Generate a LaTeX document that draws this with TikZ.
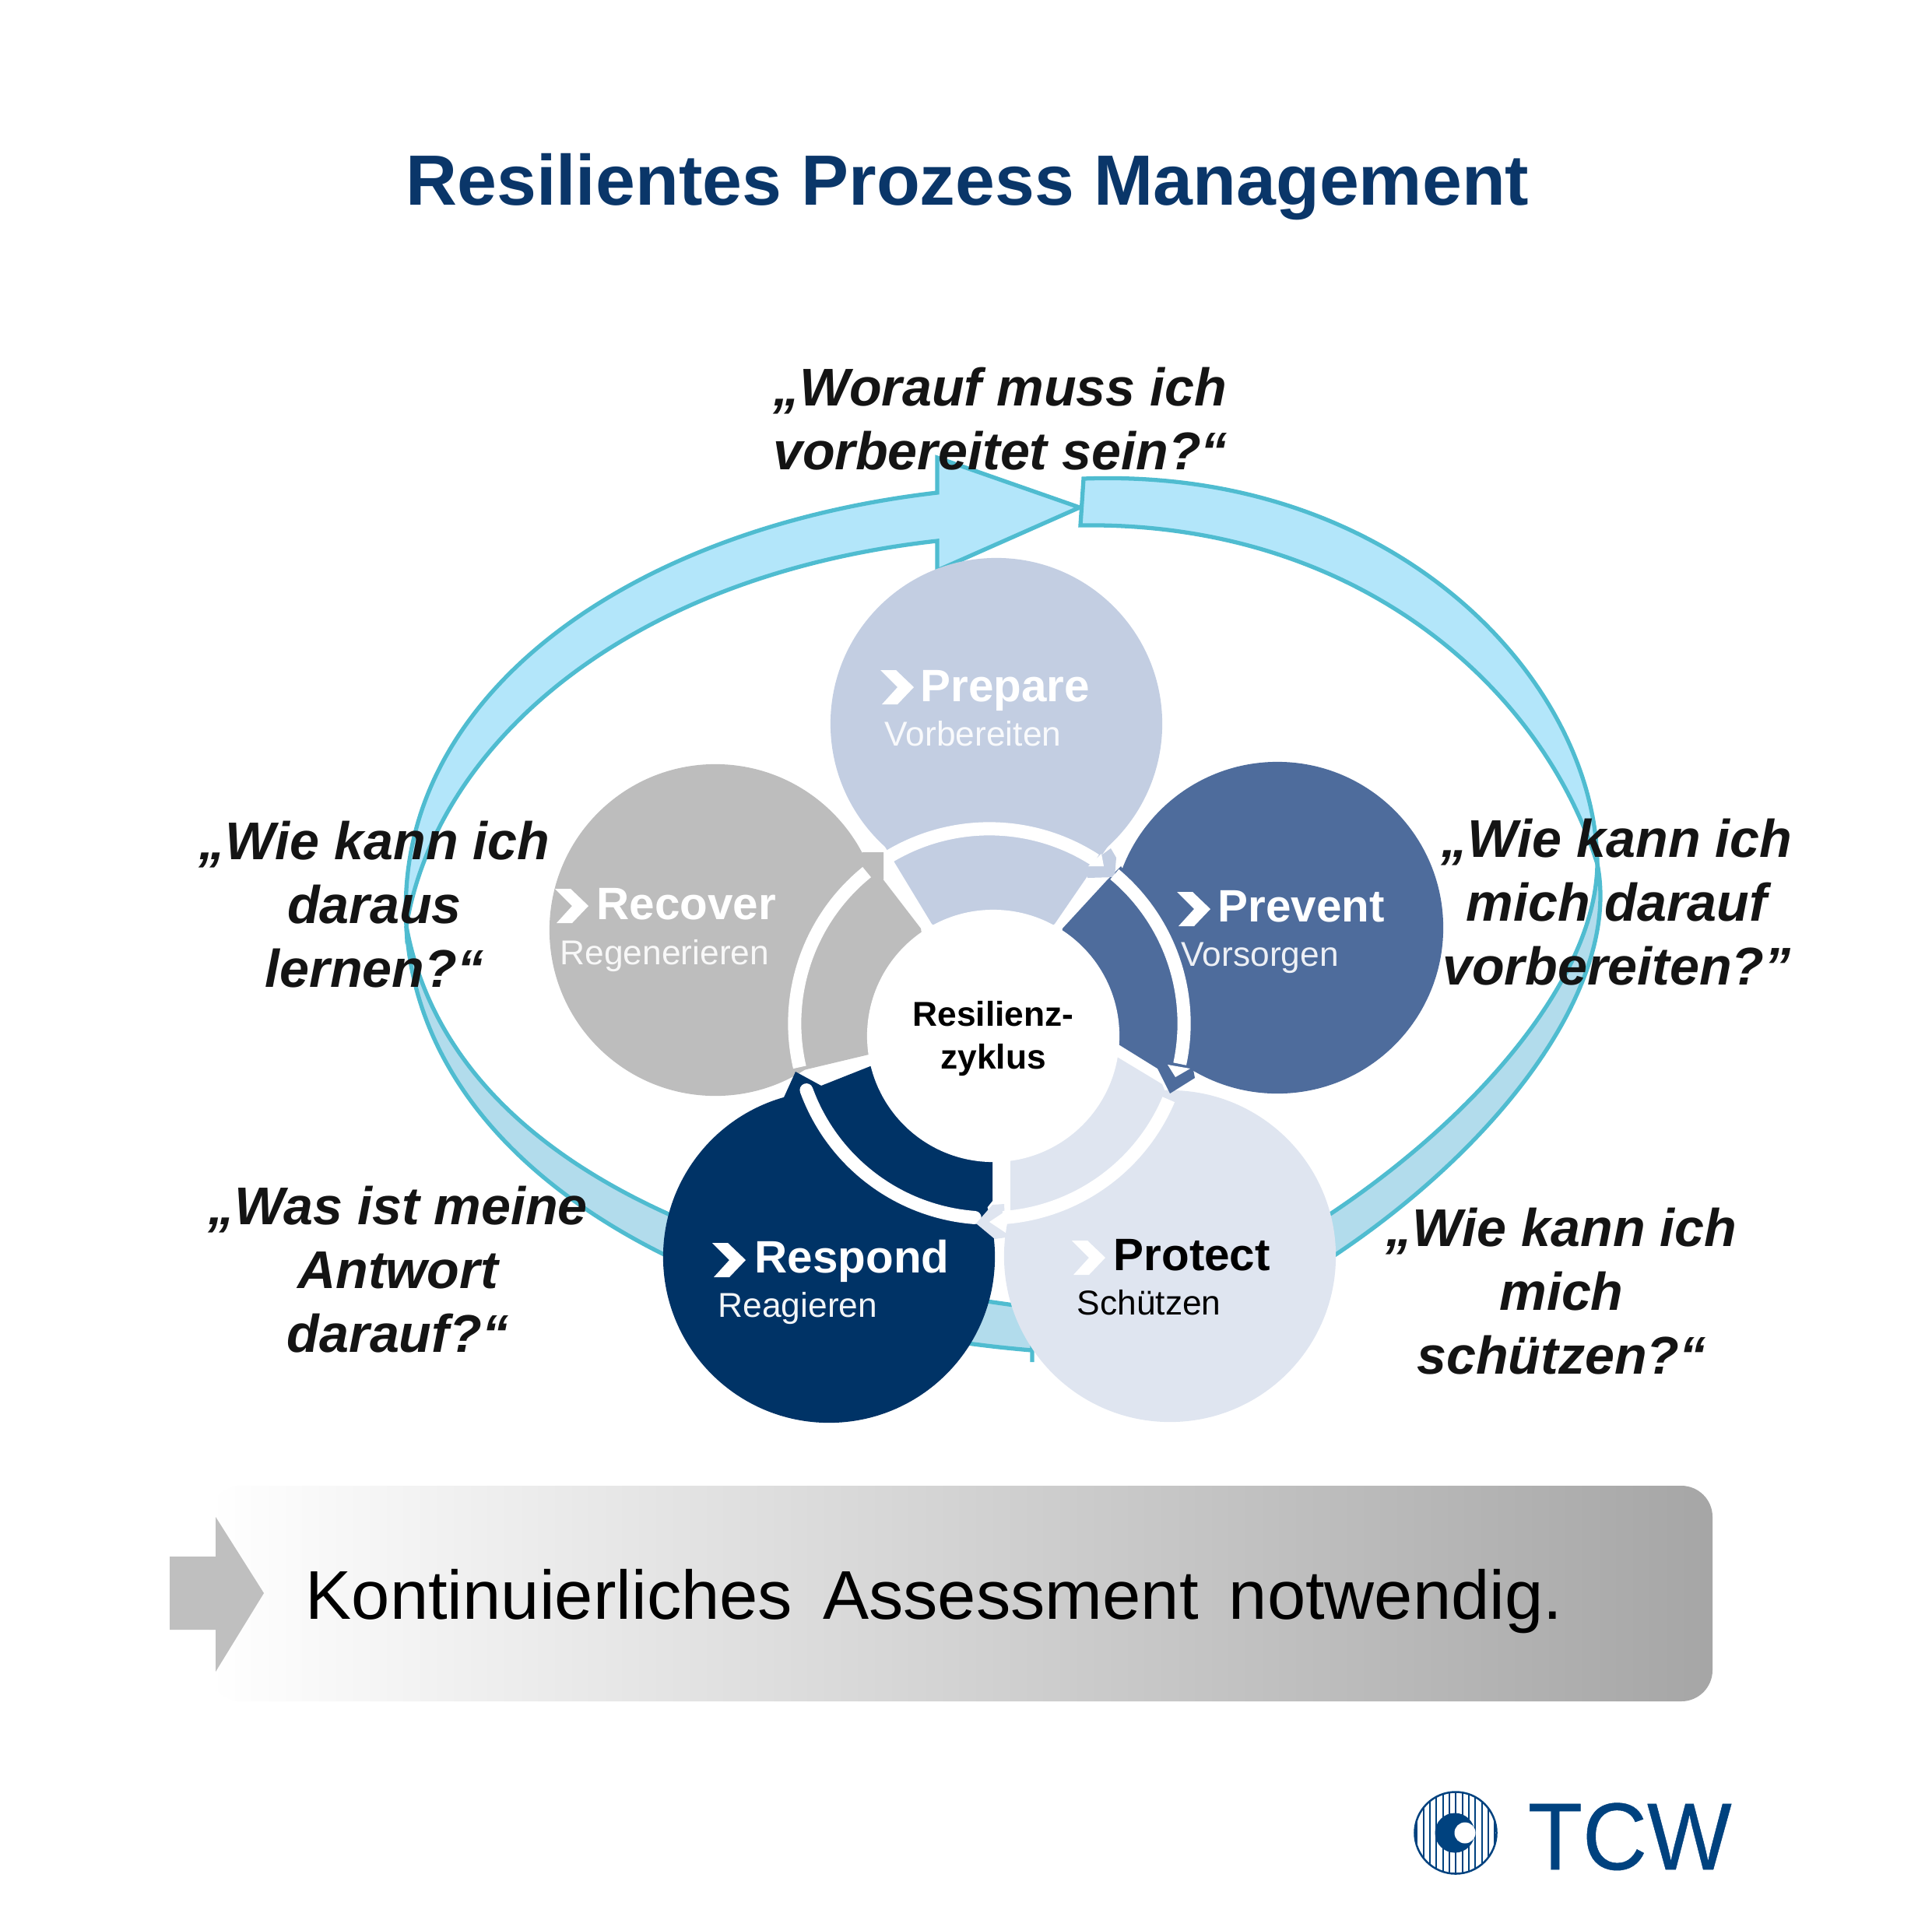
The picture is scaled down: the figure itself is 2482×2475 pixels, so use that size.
\documentclass[tikz,border=0pt]{standalone}
\usepackage{fontspec}
\setmainfont{Liberation Sans}
\newfontfamily\logofont[FakeBold=0.4]{Liberation Sans}
\definecolor{titleBlue}{HTML}{0A3669}
\definecolor{bandUp}{HTML}{B3E6FA}
\definecolor{bandLow}{HTML}{B2DCEC}
\definecolor{bandLine}{HTML}{4FBCD0}
\definecolor{prepareCol}{HTML}{C3CEE2}
\definecolor{preventCol}{HTML}{4E6C9C}
\definecolor{protectCol}{HTML}{DFE5F0}
\definecolor{respondCol}{HTML}{003366}
\definecolor{recoverCol}{HTML}{BDBDBD}
\definecolor{logoBlue}{HTML}{00427F}
\tikzset{
  phase/.style={circle,minimum size=4.26cm,inner sep=0pt},
  phaseName/.style={anchor=base west,inner sep=0pt,font=\fontsize{16.6pt}{20pt}\selectfont\bfseries},
  phaseSub/.style={anchor=base west,inner sep=0pt,font=\fontsize{12.6pt}{15pt}\selectfont},
  question/.style={align=center,inner sep=0pt,text=black!92,font=\fontsize{19.4pt}{23.3pt}\selectfont\bfseries\itshape},
  ringArc/.style={draw=white,line width=0.17cm},
  bandTop/.style={fill=bandUp,draw=bandLine,line width=1.5pt,line join=miter},
  bandBottom/.style={fill=bandLow,draw=bandLine,line width=1.5pt,line join=miter},
}
\newcommand{\chevron}[3][white]{%
  \fill[#1] (#2,#3) -- ++(20,0) -- ++(23,22) -- ++(-21,22) -- ++(-20,0) -- ++(20,-22) -- cycle;}

\begin{document}
\begin{tikzpicture}[x=0.01cm,y=-0.01cm]
  \useasboundingbox (0,0) rectangle (2482,2475);
  % Title
  \node[anchor=base,inner sep=0pt,text=titleBlue,font=\fontsize{26pt}{30pt}\selectfont\bfseries] (title) at (1243,263) {Resilientes Prozess Management};

  %Big arrows, upper half
  \path[bandTop] (522,1190) .. controls (505,900) and (800,680) .. (1204,633)
    -- (1204,588) -- (1387,652) -- (1204,733) -- (1204,695)
    .. controls (800,740) and (560,960) .. (522,1190) -- cycle;
  \path[bandTop] (1392,615) .. controls (1800,600) and (2050,880) .. (2052,1110)
    .. controls (1980,880) and (1740,670) .. (1388,675) -- cycle;
  %Big arrows, lower half
  \path[bandBottom] (522,1190) .. controls (540,1500) and (900,1700) .. (1326,1735)
    -- (1326,1750) -- (1326,1680)
    .. controls (850,1620) and (570,1450) .. (522,1190) -- cycle;
  \path[bandBottom] (2052,1110) .. controls (2090,1300) and (1850,1565) .. (1560,1700)
    -- (1560,1645) .. controls (1820,1520) and (2050,1290) .. (2052,1110) -- cycle;

  %Circles
  \node[phase,fill=prepareCol] (prepare) at (1280,930) {};
  \node[phase,fill=preventCol] (prevent) at (1641,1192) {};
  \node[phase,fill=protectCol] (protect) at (1503,1614) {};
  \node[phase,fill=respondCol] (respond) at (1065,1615) {};
  \node[phase,fill=recoverCol] (recover) at (919,1195) {};

  %Wedges to the middle
  \fill[prepareCol] (1197,1187) -- (1137,1088) -- (1280,1050) -- (1427,1082) -- (1355,1187) -- (1276,1250) -- cycle;
  \fill[recoverCol] (1183,1193) -- (1133,1128) -- (1100,1100) -- (1020,1180) -- (1020,1375) -- (1032,1375) -- (1116,1355) -- (1200,1300) -- cycle;
  \fill[recoverCol] (1108,1095) -- (1135,1095) -- (1135,1130) -- (1100,1130) -- cycle;
  \fill[preventCol] (1365,1193) -- (1423,1130) -- (1440,1113) -- (1500,1200) -- (1535,1385) -- (1503,1405) -- (1487,1373) -- (1437,1342) -- (1350,1290) -- cycle;
  \fill[protectCol] (1435,1358) -- (1493,1393) -- (1500,1410) -- (1400,1560) -- (1298,1560) -- (1298,1480) -- (1400,1420) -- cycle;
  \fill[respondCol] (1118,1370) -- (1055,1395) -- (1022,1377) -- (1007,1410) -- (1020,1500) -- (1120,1600) -- (1263,1558) -- (1275,1543) -- (1275,1480) -- (1200,1400) -- cycle;

  %Ring
  \coordinate (ringC) at (1271,1315);
  \fill[prepareCol] (1427,1090) -- (1434,1102) -- (1432,1127) -- (1397,1128) -- (1397,1112) -- cycle;
  \draw[ringArc,line cap=round] ([shift={(200:2.5cm)}]ringC) arc (200:265.7:2.5cm);
  \fill[protectCol] (1290,1547) -- (1275,1548) -- (1254,1572) -- (1278,1592) -- (1292,1590) -- cycle;
  \draw[ringArc] ([shift={(121:2.5cm)}]ringC) arc (121:57:2.5cm);
  \draw[ringArc] ([shift={(50:2.5cm)}]ringC) arc (50:-12:2.5cm);
  \draw[ringArc] ([shift={(-23:2.5cm)}]ringC) arc (-23:-86:2.5cm);
  \draw[ringArc] ([shift={(193:2.5cm)}]ringC) arc (193:129:2.5cm);
  \fill[white] (1415,1097) -- (1418,1113) -- (1398,1113) -- cycle;
  \fill[white] (1500,1368) -- (1510,1384) -- (1529,1373) -- cycle;
  \fill[white] (1271,1570) -- (1292,1556) -- (1292,1584) -- cycle;

  %Middle
  \node[circle,fill=white,minimum size=3.24cm,inner sep=0pt] (hub) at (1276,1331) {};
  \node[anchor=base,inner sep=0pt,font=\fontsize{12.6pt}{15pt}\selectfont\bfseries] (hubA) at (1276,1318) {Resilienz-};
  \node[anchor=base,inner sep=0pt,font=\fontsize{12.6pt}{15pt}\selectfont\bfseries] (hubB) at (1276,1373) {zyklus};

  %Phase labels
  \chevron{1131}{861}
  \node[phaseName,text=white] (prepareName) at (1182,901) {Prepare};
  \node[phaseSub,text=white!90!prepareCol] (prepareSub) at (1136,958) {Vorbereiten};
  \chevron{1512}{1146}
  \node[phaseName,text=white] (preventName) at (1564,1184) {Prevent};
  \node[phaseSub,text=white!90!preventCol] (preventSub) at (1517,1241) {Vorsorgen};
  \chevron{713}{1142}
  \node[phaseName,text=white] (recoverName) at (766,1181) {Recover};
  \node[phaseSub,text=white!90!recoverCol] (recoverSub) at (719,1239) {Regenerieren};
  \chevron{915}{1597}
  \node[phaseName,text=white] (respondName) at (969,1635) {Respond};
  \node[phaseSub,text=white!95!respondCol] (respondSub) at (922,1692) {Reagieren};
  \chevron{1377}{1594}
  \node[phaseName] (protectName) at (1430,1632) {Protect};
  \node[phaseSub] (protectSub) at (1383,1689) {Schützen};

  %Questions
  \node[question] (askPrepare) at (1285,538) {„Worauf muss ich\\vorbereitet sein?“};
  \node[question] (askRecover) at (481,1162) {„Wie kann ich\\daraus\\lernen?“};
  \node[question] (askPrevent) at (2077,1159) {„Wie kann ich\\mich darauf\\vorbereiten?”};
  \node[question] (askRespond) at (511,1631) {„Was ist meine\\Antwort\\darauf?“};
  \node[question] (askProtect) at (2006,1659) {„Wie kann ich\\mich\\schützen?“};

  %Bar
  \path[left color=white,middle color=black!22,right color=black!35,rounded corners=0.4cm] (269,1909) rectangle (2200,2186);
  \fill[black!25] (218,2000) -- (277,2000) -- (277,1949) -- (339,2047) -- (277,2148) -- (277,2094) -- (218,2094) -- cycle;
  \node[anchor=base west,inner sep=0pt,font=\fontsize{25.2pt}{30pt}\selectfont] (barText) at (392,2080) {\spaceskip=0.44em Kontinuierliches Assessment notwendig.};

  %Logo
  \begin{scope}
    \clip (1870,2355) circle (0.525cm);
    \draw[logoBlue,line width=0.02cm] (1820,2300) -- (1820,2410) (1828.5,2300) -- (1828.5,2410) (1837,2300) -- (1837,2410)
      (1845,2300) -- (1845,2410) (1853.5,2300) -- (1853.5,2410) (1862,2300) -- (1862,2410) (1870,2300) -- (1870,2410)
      (1878.5,2300) -- (1878.5,2410) (1887,2300) -- (1887,2410) (1895,2300) -- (1895,2410) (1903.5,2300) -- (1903.5,2410)
      (1912,2300) -- (1912,2410) (1920,2300) -- (1920,2410);
  \end{scope}
  \draw[logoBlue,line width=0.025cm] (1870,2355) circle (0.525cm);
  \fill[logoBlue] (1869,2355) circle (0.255cm);
  \fill[white] (1882,2355) circle (0.135cm);
  \node[anchor=base west,inner sep=0pt,text=logoBlue,font=\logofont\fontsize{34.8pt}{40pt}\selectfont] (logoName) at (1962,2402) {\scalebox{0.94}[1]{TCW}};
\end{tikzpicture}
\end{document}
